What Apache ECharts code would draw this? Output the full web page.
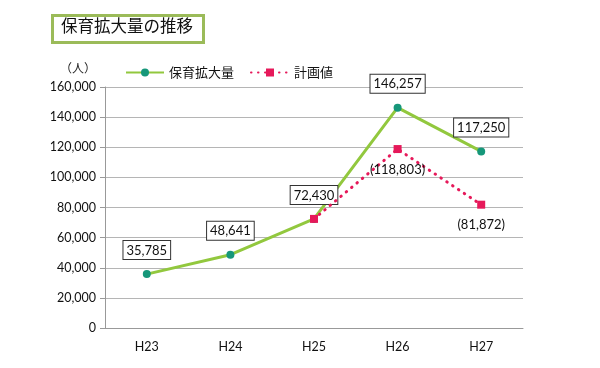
<!DOCTYPE html>
<html><head><meta charset="utf-8">
<script src="https://cdn.jsdelivr.net/npm/echarts@6/dist/echarts.min.js"></script>
<style>html,body{margin:0;padding:0;background:#fff}#c{width:600px;height:368px}</style>
</head><body><div id="c"></div>
<script>
var categories = ['H23','H24','H25','H26','H27'];
var actual = [35785, 48641, 72430, 146257, 117250];
var plan = [null, null, 72430, 118803, 81872];
var yTicks = {min: 0, max: 160000, interval: 20000};
var titleText = '保育拡大量の推移';
var unitText = '（人）';
var seriesNames = ['保育拡大量', '計画値'];

var FONT = '"Lato","Noto Sans CJK JP",sans-serif';
var JFONT = '"Noto Sans CJK JP",sans-serif';
function fmt(v){ return v.toLocaleString('en-US'); }

var chart = echarts.init(document.getElementById('c'), null, {renderer:'canvas'});
chart.setOption({
  animation: false,
  backgroundColor: '#fff',
  graphic: [
    {type:'rect', left: 51, top: 14, shape:{width:151, height:27},
     style:{fill:'#fff', stroke:'#9bbb59', lineWidth:3}},
    {type:'text', left: 61, top: 17, style:{text: titleText, font:'400 16.5px ' + JFONT, fill:'#111'}},
    {type:'text', left: 60, top: 62, style:{text: unitText, font:'12px ' + JFONT, fill:'#222'}}
  ],
  legend: {
    top: 61, left: 120, itemGap: 16, itemWidth: 38, itemHeight: 10,
    textStyle: {fontFamily: JFONT, fontSize: 13, color: '#111'},
    data: seriesNames
  },
  grid: {left: 105, right: 77, top: 87, bottom: 40},
  xAxis: {
    type: 'category', data: categories, boundaryGap: true,
    axisLine: {lineStyle: {color: '#999'}},
    axisTick: {alignWithLabel: true, length: 4, lineStyle:{color:'#999'}},
    axisLabel: {fontFamily: FONT, fontSize: 12.5, color: '#111', margin: 13}
  },
  yAxis: {
    type: 'value', min: yTicks.min, max: yTicks.max, interval: yTicks.interval,
    axisLine: {show: true, lineStyle: {color: '#999'}},
    axisTick: {show: true, length: 5, lineStyle:{color:'#999'}},
    splitLine: {lineStyle: {color: '#b5b5b5'}},
    axisLabel: {fontFamily: FONT, fontSize: 12.5, color: '#111', margin: 9, formatter: fmt}
  },
  series: [
    {
      name: seriesNames[0], type: 'line', data: actual, z: 2,
      symbol: 'circle', symbolSize: 8,
      lineStyle: {color: '#92c83e', width: 3},
      itemStyle: {color: '#16977a'},
      label: {
        show: true, position: 'top', distance: 11,
        fontFamily: FONT, fontSize: 13, color: '#111',
        backgroundColor: '#fff', borderColor: '#333', borderWidth: 1,
        padding: [3, 3, 2, 3],
        formatter: function(p){ return fmt(p.value); }
      }
    },
    {
      name: seriesNames[1], type: 'line', data: plan, z: 3,
      symbol: 'rect', symbolSize: 8,
      lineStyle: {color: '#e6195a', width: 3, type: [0.5, 6.5], cap: 'round'},
      itemStyle: {color: '#e6195a'},
      label: {
        show: true, position: 'bottom', distance: 10,
        fontFamily: FONT, fontSize: 13, color: '#111',
        formatter: function(p){ return p.dataIndex < 3 ? '' : '(' + fmt(p.value) + ')'; }
      }
    }
  ]
});
</script></body></html>
